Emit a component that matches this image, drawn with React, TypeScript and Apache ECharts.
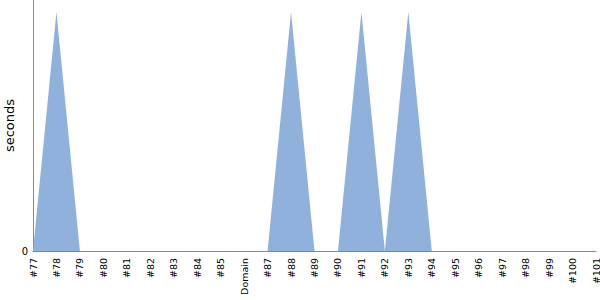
import React, { useEffect, useRef } from "react";
import * as echarts from "echarts";

const categories = ["#77", "#78", "#79", "#80", "#81", "#82", "#83", "#84", "#85", "Domain", "#87", "#88", "#89", "#90", "#91", "#92", "#93", "#94", "#95", "#96", "#97", "#98", "#99", "#100", "#101"];
const seconds = [0, 1, 0, 0, 0, 0, 0, 0, 0, 0, 0, 1, 0, 0, 1, 0, 1, 0, 0, 0, 0, 0, 0, 0, 0];
const yMax = 1.05;
const yTicks = [0];

export default function App() {
  const ref = useRef<HTMLDivElement>(null);
  useEffect(() => {
    const chart = echarts.init(ref.current!, null, { renderer: "svg" });
    chart.setOption({
      animation: false,
      grid: { left: 33, right: 4, top: 0, bottom: 49, containLabel: false, outerBoundsMode: "none" },
      xAxis: {
        type: "category",
        data: categories,
        boundaryGap: false,
        axisLine: { lineStyle: { color: "#888", width: 1 } },
        axisTick: { show: false },
        axisLabel: { rotate: 90, interval: 0, fontFamily: "DejaVu Sans", fontSize: 9.5, color: "#000", margin: 7 },
      },
      yAxis: {
        type: "value",
        min: 0,
        max: yMax,
        interval: yMax,
        name: "seconds",
        nameLocation: "middle",
        nameGap: 17,
        nameMoveOverlap: false,
        nameTextStyle: { fontFamily: "DejaVu Sans", fontSize: 13, color: "#000" },
        axisLine: { show: true, lineStyle: { color: "#888", width: 1 } },
        axisTick: { show: false },
        splitLine: { show: false },
        axisLabel: {
          fontFamily: "DejaVu Sans",
          fontSize: 10,
          color: "#000",
          margin: 5,
          formatter: (v: number) => (yTicks.includes(v) ? String(v) : ""),
        },
      },
      series: [
        {
          type: "line",
          data: seconds,
          symbol: "none",
          lineStyle: { width: 0 },
          areaStyle: { color: "#8fb1db", opacity: 1 },
        },
      ],
    });
    return () => chart.dispose();
  }, []);
  return <div ref={ref} style={{ width: 600, height: 300, position: "absolute", left: 0, top: 0 }} />;
}
